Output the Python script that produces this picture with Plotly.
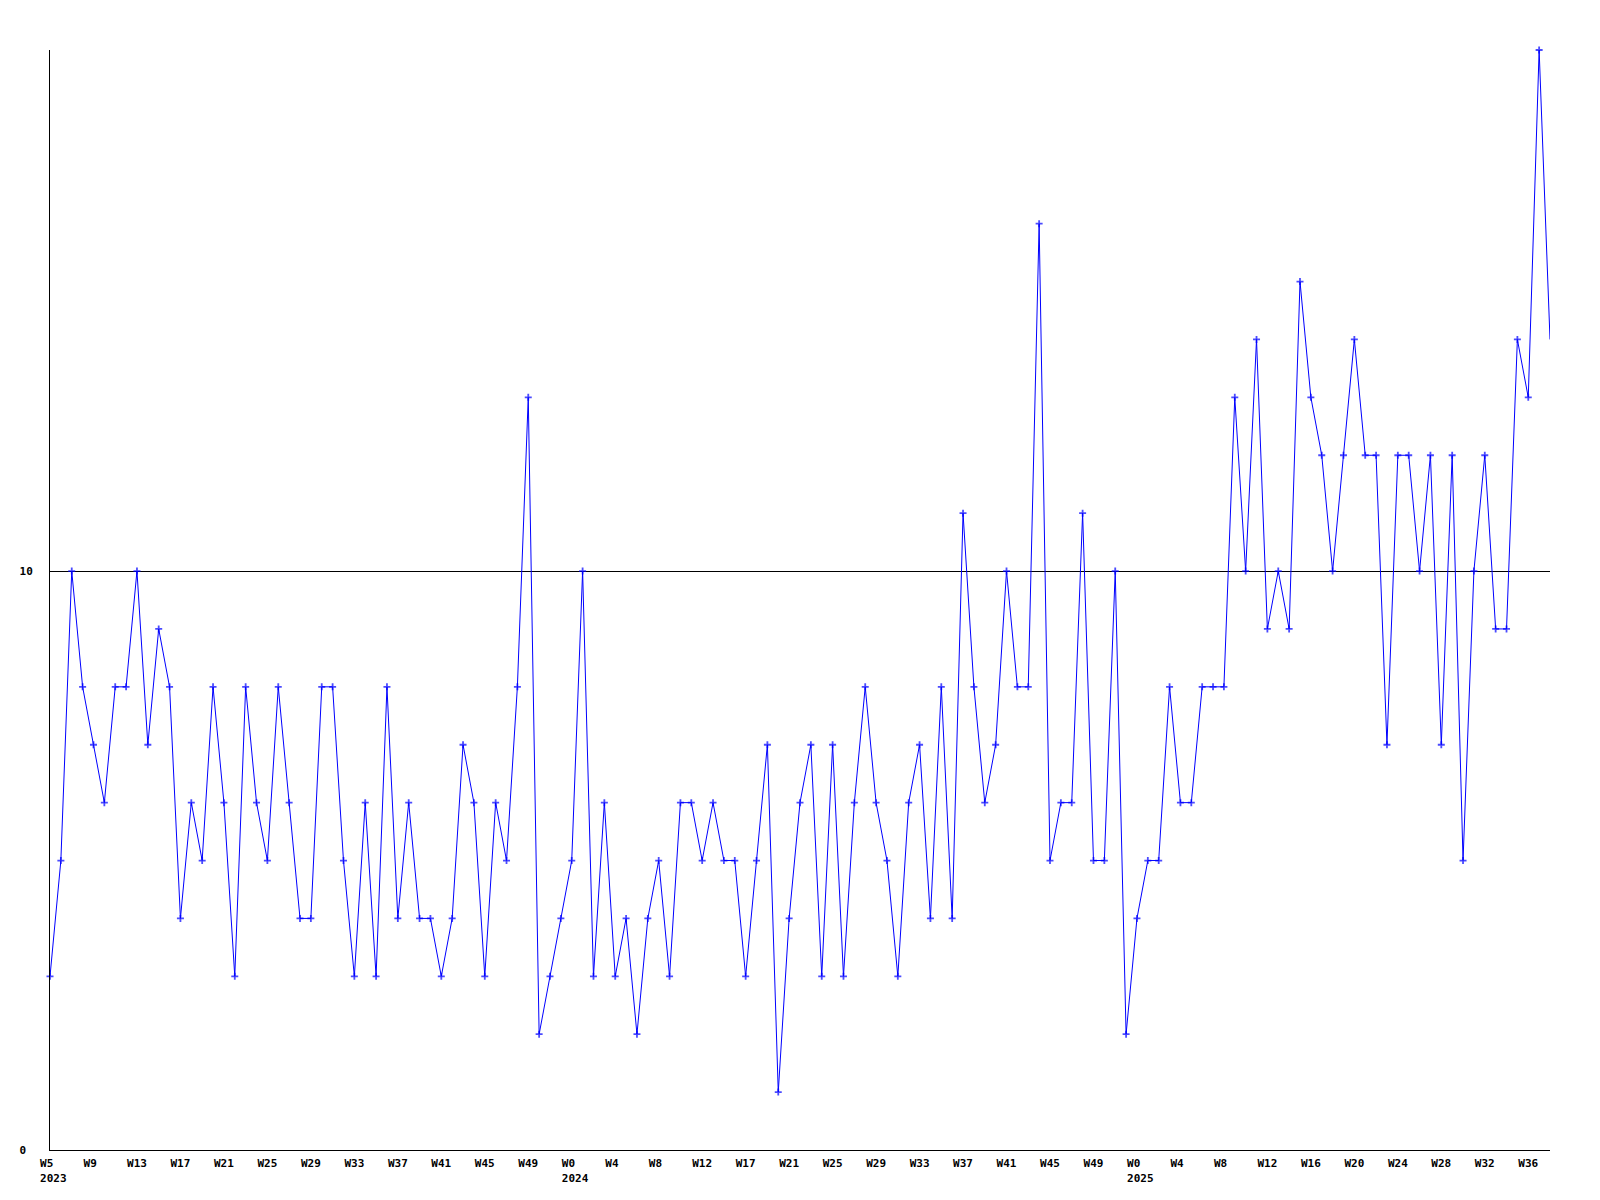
import plotly.graph_objects as go

# Weekly values (2023 W5..W52, 2024 W0..W52 with one week absent, 2025 W0..W38)
vals_2023 = [3, 5, 10, 8, 7, 6, 8, 8, 10, 7,
             9, 8, 4, 6, 5, 8, 6, 3, 8, 6,
             5, 8, 6, 4, 4, 8, 8, 5, 3, 6,
             3, 8, 4, 6, 4, 4, 3, 4, 7, 6,
             3, 6, 5, 8, 13, 2, 3, 4]
vals_2024 = [5, 10,
             3, 6, 3, 4, 2, 4, 5, 3, 6, 6,
             5, 6, 5, 5, 3, 5, 7, 1, 4, 6,
             7, 3, 7, 3, 6, 8, 6, 5, 3, 6,
             7, 4, 8, 4, 11, 8, 6, 7, 10, 8,
             8, 16, 5, 6, 6, 11, 5, 5, 10, 2]
vals_2025 = [4, 5, 5, 8, 6, 6, 8, 8, 8, 13,
             10, 14, 9, 10, 9, 15, 13, 12, 10, 12,
             14, 12, 12, 7, 12, 12, 10, 12, 7, 12,
             5, 10, 12, 9, 9, 14, 13, 19, 14]

week_labels = ["W5", "W9", "W13", "W17", "W21", "W25", "W29", "W33",
               "W37", "W41", "W45", "W49",
               "W0", "W4", "W8", "W12", "W17", "W21", "W25", "W29",
               "W33", "W37", "W41", "W45", "W49",
               "W0", "W4", "W8", "W12", "W16", "W20", "W24", "W28",
               "W32", "W36"]
year_labels = {0: "2023", 12: "2024", 25: "2025"}
y_ticks = [0, 10]

values = vals_2023 + vals_2024 + vals_2025
x = list(range(len(values)))
tick_positions = list(range(0, len(values), 4))[:len(week_labels)]

NB = "\u00a0"
def left_align(label):
    # emulate left-aligned labels in a monospace font
    return label + NB if len(label) == 2 else label

tick_text = []
for i, w in enumerate(week_labels):
    t = left_align(w)
    if i in year_labels:
        t += "<br>" + NB + year_labels[i]
    tick_text.append(t)

marker_sizes = [5] * (len(values) - 1) + [0]

fig = go.Figure()
fig.add_trace(go.Scatter(
    x=x, y=values, mode="lines+markers",
    line=dict(color="#0000ff", width=1),
    marker=dict(symbol="cross-thin", size=marker_sizes, color="#0000ff",
                line=dict(color="#0000ff", width=1.8)),
    cliponaxis=False, hoverinfo="x+y", showlegend=False,
))

font = dict(family="DejaVu Sans Mono", size=11, color="#000000", weight="bold")

fig.update_layout(
    width=1600, height=1200,
    margin=dict(l=42, r=58, t=42, b=58, autoexpand=False),
    paper_bgcolor="#ffffff", plot_bgcolor="#ffffff",
    xaxis=dict(range=[0, len(values) - 1], tickvals=tick_positions,
               ticktext=tick_text, showgrid=False, zeroline=False,
               showline=True, linecolor="#000000", linewidth=1,
               ticks="", tickfont=font, tickangle=0, ticklabelstandoff=3,
               automargin=False),
    yaxis=dict(range=[0, 19], tickvals=y_ticks,
               ticktext=[str(v) + NB * (2 - len(str(v))) for v in y_ticks],
               showgrid=True, gridcolor="#000000", gridwidth=1, zeroline=False,
               showline=True, linecolor="#000000", linewidth=1,
               ticks="", tickfont=font, ticklabelstandoff=14,
               automargin=False),
)

fig.write_html("out.html")
